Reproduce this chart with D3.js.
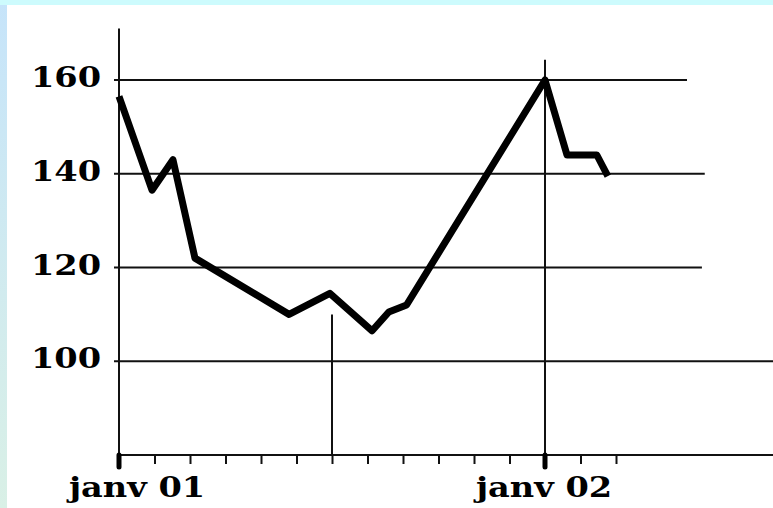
<!DOCTYPE html>
<html>
<head>
<meta charset="utf-8">
<script src="https://cdn.jsdelivr.net/npm/d3@7"></script>
<style>
  html, body { margin: 0; padding: 0; background: #fff; }
  svg { display: block; }
</style>
</head>
<body>
<script>
// ---- data (x in months since janv 01) ----
const months = [0, 0.93, 1.52, 2.14, 4.79, 5.94, 7.13, 7.6, 8.1, 12, 12.62, 13.46, 13.77];
const values = [156.5, 136.5, 143, 122, 110, 114.5, 106.5, 110.5, 112, 160, 144, 144, 139.5];
const yTicks = [100, 120, 140, 160];
const gridEnds = [18.5, 16.42, 16.5, 16.0]; // for 100,120,140,160
const minorTicks = d3.range(0, 15);
const majorTicks = [0, 12];
const majorLabels = ["janv 01", "janv 02"];
const refMonths = [6, 12];
const refTops = [110, 164.3];

const W = 773, H = 508;
const svg = d3.select("body").append("svg").attr("width", W).attr("height", H);

// background
const defs = svg.append("defs");
const g1 = defs.append("linearGradient").attr("id", "lg").attr("x1", 0).attr("y1", 0).attr("x2", 0).attr("y2", 1);
g1.append("stop").attr("offset", "0%").attr("stop-color", "#c6e4fa");
g1.append("stop").attr("offset", "100%").attr("stop-color", "#d9f0e6");
svg.append("rect").attr("width", W).attr("height", H).attr("fill", "url(#lg)");
svg.append("rect").attr("width", W).attr("height", 5).attr("fill", "#cdfbfd");
svg.append("rect").attr("x", 7).attr("y", 5).attr("width", W - 7).attr("height", H - 5).attr("fill", "#fff");

const x = d3.scaleLinear().domain([0, 12]).range([119, 545]);
const y = d3.scaleLinear().domain([80, 160]).range([455, 80]);

// gridlines
svg.append("g").selectAll("line").data(yTicks).join("line")
  .attr("x1", x(0) - 5)
  .attr("x2", (d, i) => x(gridEnds[i]))
  .attr("y1", d => y(d)).attr("y2", d => y(d))
  .attr("stroke", "#111").attr("stroke-width", 2);

// y labels
svg.append("g").selectAll("g").data(yTicks).join("g")
  .attr("transform", d => `translate(101,${y(d) + 7}) scale(1.2,1)`)
  .append("text").attr("text-anchor", "end")
  .attr("font-family", "DejaVu Serif").attr("font-weight", "bold").attr("font-size", 28)
  .attr("fill", "#000").text(d => d);

// reference vertical lines
svg.append("g").selectAll("line").data(refMonths).join("line")
  .attr("x1", d => x(d)).attr("x2", d => x(d))
  .attr("y1", (d, i) => y(refTops[i])).attr("y2", y(80))
  .attr("stroke", "#111").attr("stroke-width", 2);

// y axis line
svg.append("line").attr("x1", x(0)).attr("x2", x(0)).attr("y1", y(171)).attr("y2", y(80))
  .attr("stroke", "#111").attr("stroke-width", 2);

// x axis
const xAxis = d3.axisBottom(x).tickValues(minorTicks).tickSize(9).tickFormat("");
const ax = svg.append("g").attr("transform", `translate(0,${y(80)})`).call(xAxis);
ax.select(".domain").attr("d", `M${x(0)},0H${W}`).attr("stroke", "#111").attr("stroke-width", 2);
ax.selectAll(".tick line").attr("stroke", "#111").attr("stroke-width", 2);

// major ticks
svg.append("g").selectAll("line").data(majorTicks).join("line")
  .attr("x1", d => x(d)).attr("x2", d => x(d))
  .attr("y1", y(80)).attr("y2", y(80) + 12)
  .attr("stroke", "#000").attr("stroke-width", 5).attr("stroke-linecap", "round");

// x labels
svg.append("g").selectAll("g").data(majorTicks).join("g")
  .attr("transform", (d, i) => `translate(${x(d) + (i === 0 ? 18 : -1)},497) scale(1.2,1)`)
  .append("text").attr("text-anchor", "middle")
  .attr("font-family", "DejaVu Serif").attr("font-weight", "bold").attr("font-size", 28)
  .attr("fill", "#000").text((d, i) => majorLabels[i]);

// data line
const pts = months.map((m, i) => [m, values[i]]);
svg.append("path").datum(pts)
  .attr("d", d3.line().x(d => x(d[0])).y(d => y(d[1])))
  .attr("fill", "none").attr("stroke", "#000").attr("stroke-width", 7)
  .attr("stroke-linejoin", "round");
</script>
</body>
</html>
